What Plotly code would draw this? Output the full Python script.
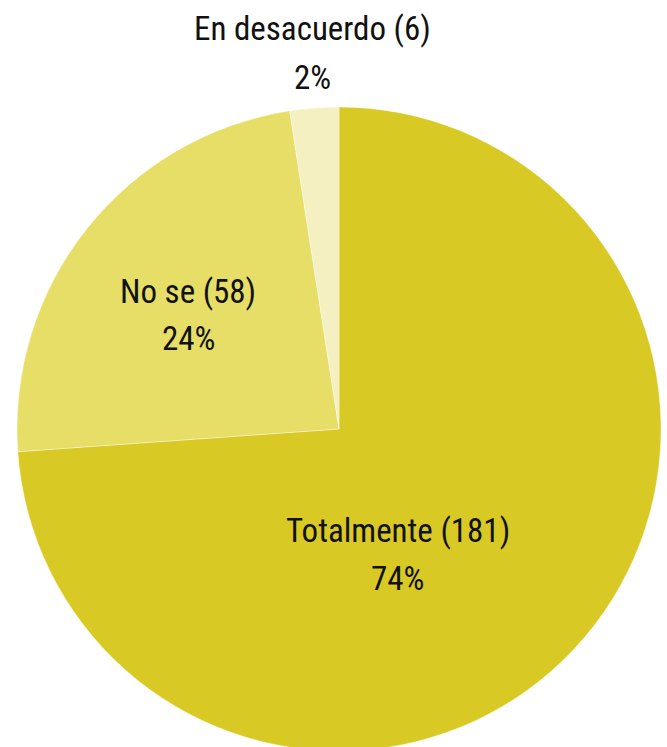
import plotly.graph_objects as go

# Survey answers, clockwise from 12 o'clock
labels = ["Totalmente", "No se", "En desacuerdo"]
counts = [181, 58, 6]
colors = ["#D9C924", "#E6DE66", "#F5F0C2"]

# Label placement: centre x and the vertical centres of the two text lines (pixels)
label_x = [398, 188, 312]
label_y1 = [530, 291, 28]
label_y2 = [578, 338, 77]

W, H = 667, 760
FONT = "Roboto Condensed, Liberation Sans Narrow, DejaVu Sans Condensed, sans-serif"
FONT_SIZE = 33

total = sum(counts)

fig = go.Figure(
    go.Pie(
        labels=labels,
        values=counts,
        sort=False,
        direction="clockwise",
        rotation=0,
        marker=dict(colors=colors, line=dict(color="rgba(255,255,255,0.6)", width=0.6)),
        textinfo="none",
        hoverinfo="label+value+percent",
        showlegend=False,
        domain=dict(x=[17 / W, 661 / W], y=[(H - 751) / H, (H - 107) / H]),
    )
)

for lab, cnt, px, y1, y2 in zip(labels, counts, label_x, label_y1, label_y2):
    pct = round(100 * cnt / total)
    for txt, py in ((f"{lab} ({cnt})", y1), (f"{pct}%", y2)):
        fig.add_annotation(
            x=px / W,
            y=(H - py) / H,
            xref="paper",
            yref="paper",
            xanchor="center",
            yanchor="middle",
            text=txt,
            showarrow=False,
            font=dict(family=FONT, size=FONT_SIZE, color="#111111"),
        )

fig.update_layout(
    width=W,
    height=H,
    margin=dict(l=0, r=0, t=0, b=0),
    paper_bgcolor="white",
    plot_bgcolor="white",
)

fig.write_html(
    "out.html",
    post_script="document.body.style.overflow='hidden';document.documentElement.style.overflow='hidden';",
)
